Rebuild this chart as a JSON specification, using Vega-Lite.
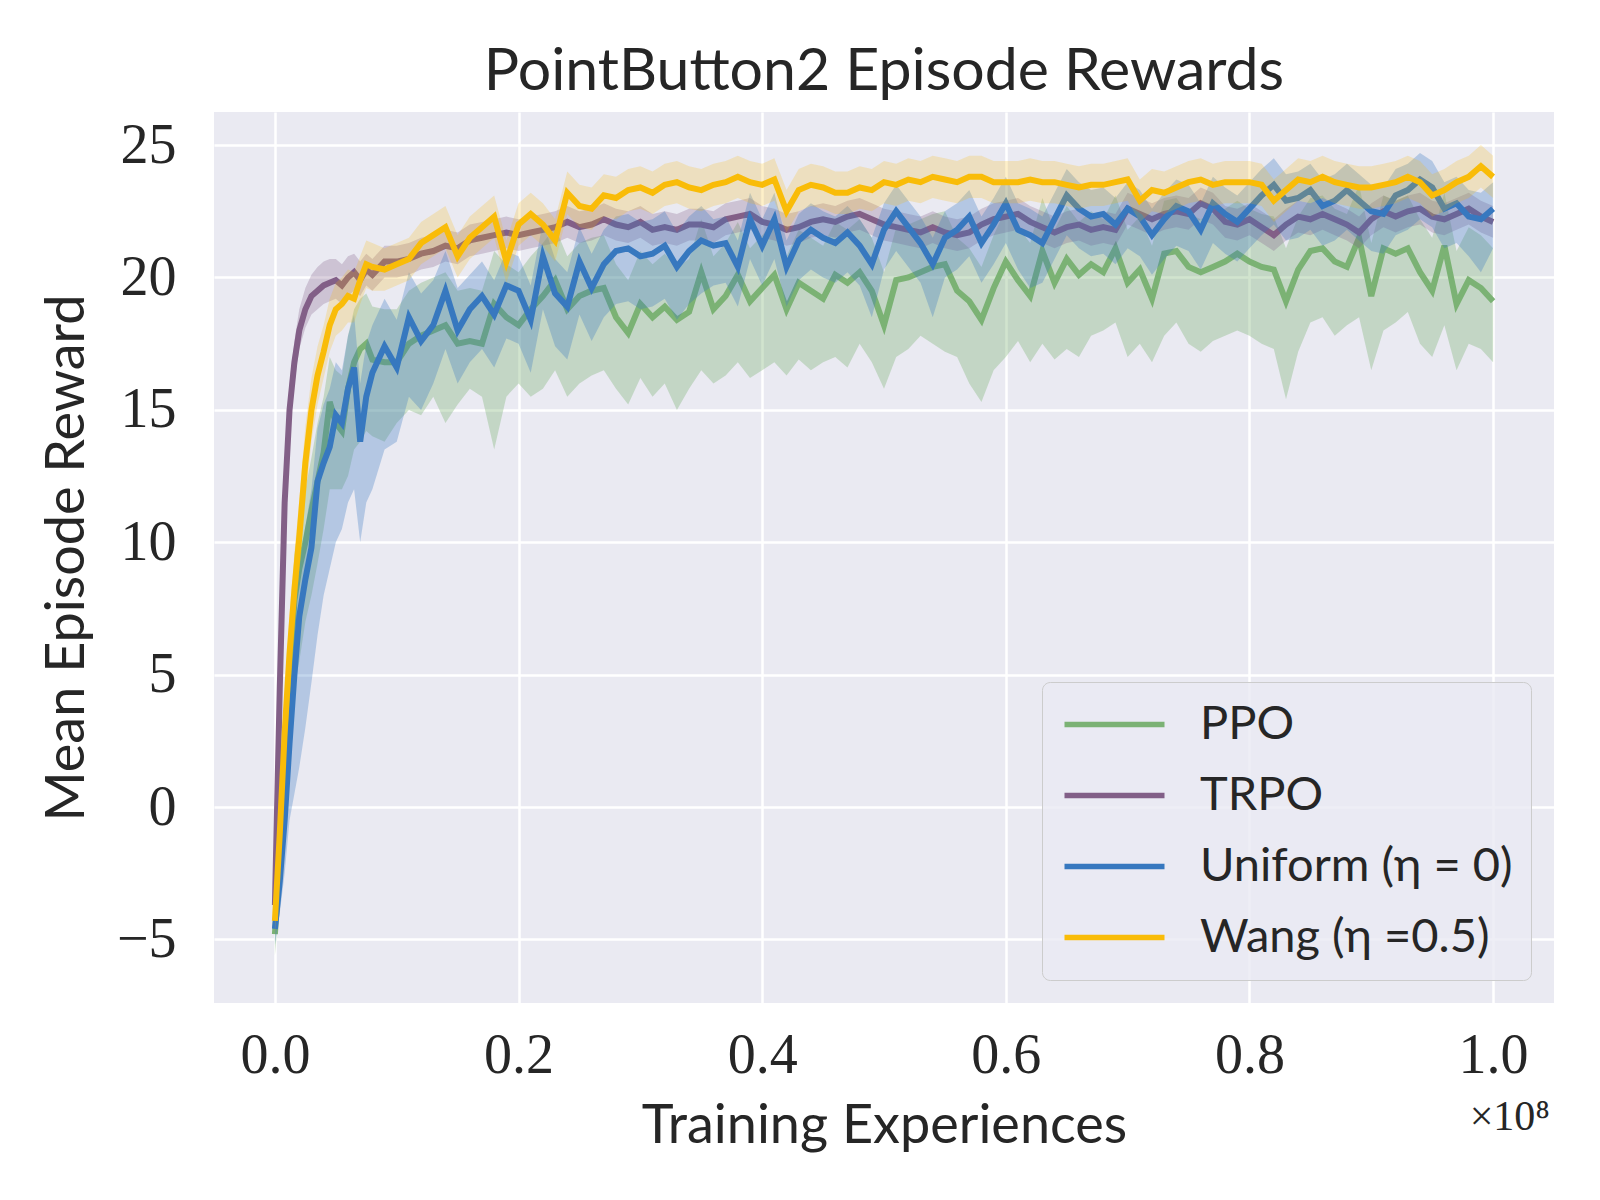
{
  "$schema": "https://vega.github.io/schema/vega-lite/v6.json",
  "width": 1340,
  "height": 891,
  "padding": {"left": 40, "top": 43, "right": 30, "bottom": 20},
  "background": "white",
  "title": {
    "text": "PointButton2 Episode Rewards",
    "font": "Lato",
    "fontSize": 59,
    "fontWeight": "normal",
    "color": "#262626",
    "offset": 10
  },
  "data": {
    "values": [
      {"x":0,"a":-4.8,"a0":-5.6,"a1":-4.0,"b":-3.7,"b0":-4.2,"b1":-3.2,"c":-4.6,"c0":-5.2,"c1":-4.0,"d":-4.3,"d0":-4.9,"d1":-3.7},
      {"x":0.004,"a":-2.0,"a0":-3.5,"a1":-0.8,"b":4.5,"b0":3.0,"b1":6.0,"c":-2.8,"c0":-4.0,"c1":-1.5,"d":-1.0,"d0":-2.2,"d1":0.2},
      {"x":0.008,"a":1.5,"a0":-0.5,"a1":3.0,"b":11.5,"b0":10.0,"b1":13.0,"c":-0.5,"c0":-2.5,"c1":1.0,"d":2.8,"d0":1.5,"d1":4.2},
      {"x":0.012,"a":4.8,"a0":2.5,"a1":6.5,"b":15.0,"b0":14.0,"b1":16.0,"c":2.4,"c0":-0.5,"c1":4.2,"d":5.8,"d0":4.3,"d1":7.3},
      {"x":0.016,"a":7.8,"a0":4.5,"a1":9.5,"b":16.8,"b0":16.0,"b1":17.6,"c":5.0,"c0":0.5,"c1":7.0,"d":8.2,"d0":6.8,"d1":9.6},
      {"x":0.02,"a":9.0,"a0":5.5,"a1":11.0,"b":18.0,"b0":17.3,"b1":18.8,"c":7.2,"c0":1.5,"c1":9.0,"d":10.2,"d0":8.8,"d1":11.6},
      {"x":0.025,"a":10.0,"a0":7.0,"a1":12.0,"b":18.8,"b0":18.1,"b1":19.6,"c":8.6,"c0":3.0,"c1":10.6,"d":13.0,"d0":11.6,"d1":14.4},
      {"x":0.03,"a":11.2,"a0":8.0,"a1":13.2,"b":19.3,"b0":18.6,"b1":20.1,"c":9.8,"c0":4.7,"c1":12.0,"d":15.0,"d0":13.8,"d1":16.2},
      {"x":0.035,"a":12.3,"a0":9.2,"a1":14.5,"b":19.5,"b0":18.8,"b1":20.4,"c":12.3,"c0":6.5,"c1":14.3,"d":16.3,"d0":15.2,"d1":17.4},
      {"x":0.04,"a":13.4,"a0":10.5,"a1":15.5,"b":19.7,"b0":19.0,"b1":20.6,"c":13.0,"c0":8.0,"c1":15.2,"d":17.2,"d0":16.2,"d1":18.2},
      {"x":0.045,"a":15.3,"a0":12.0,"a1":17.0,"b":19.8,"b0":19.1,"b1":20.7,"c":13.6,"c0":9.0,"c1":15.8,"d":18.2,"d0":17.2,"d1":19.2},
      {"x":0.05,"a":14.5,"a0":12.0,"a1":16.5,"b":19.9,"b0":19.2,"b1":20.7,"c":14.8,"c0":10.0,"c1":16.8,"d":18.8,"d0":17.8,"d1":19.8},
      {"x":0.055,"a":14.2,"a0":12.0,"a1":16.3,"b":19.7,"b0":19.0,"b1":20.5,"c":14.5,"c0":10.5,"c1":16.5,"d":19.0,"d0":18.0,"d1":20.0},
      {"x":0.06,"a":15.8,"a0":12.5,"a1":17.8,"b":20.0,"b0":19.3,"b1":20.8,"c":15.8,"c0":11.5,"c1":17.8,"d":19.3,"d0":18.3,"d1":20.3},
      {"x":0.065,"a":16.8,"a0":13.5,"a1":18.8,"b":20.2,"b0":19.5,"b1":20.9,"c":16.6,"c0":12.0,"c1":18.6,"d":19.2,"d0":18.3,"d1":20.2},
      {"x":0.07,"a":17.3,"a0":13.8,"a1":19.2,"b":19.9,"b0":19.3,"b1":20.6,"c":13.8,"c0":10.0,"c1":16.0,"d":19.9,"d0":19.0,"d1":20.8},
      {"x":0.075,"a":17.5,"a0":14.2,"a1":19.4,"b":20.3,"b0":19.7,"b1":20.9,"c":15.5,"c0":11.5,"c1":17.5,"d":20.5,"d0":19.6,"d1":21.4},
      {"x":0.08,"a":16.9,"a0":14.0,"a1":18.9,"b":20.1,"b0":19.5,"b1":20.7,"c":16.4,"c0":12.0,"c1":18.2,"d":20.4,"d0":19.5,"d1":21.3},
      {"x":0.09,"a":16.8,"a0":13.8,"a1":18.8,"b":20.6,"b0":20.0,"b1":21.2,"c":17.4,"c0":13.5,"c1":19.2,"d":20.3,"d0":19.5,"d1":21.1},
      {"x":0.10,"a":16.8,"a0":14.5,"a1":18.8,"b":20.6,"b0":20.0,"b1":21.2,"c":16.6,"c0":13.8,"c1":18.4,"d":20.5,"d0":19.7,"d1":21.3},
      {"x":0.11,"a":17.5,"a0":15.0,"a1":19.5,"b":20.7,"b0":20.1,"b1":21.3,"c":18.5,"c0":15.5,"c1":20.2,"d":20.7,"d0":19.9,"d1":21.5},
      {"x":0.12,"a":17.8,"a0":14.8,"a1":19.8,"b":20.9,"b0":20.3,"b1":21.5,"c":17.6,"c0":15.0,"c1":19.4,"d":21.3,"d0":20.5,"d1":22.1},
      {"x":0.13,"a":18.0,"a0":15.5,"a1":20.0,"b":21.0,"b0":20.4,"b1":21.6,"c":18.2,"c0":16.0,"c1":19.9,"d":21.6,"d0":20.8,"d1":22.4},
      {"x":0.14,"a":18.2,"a0":14.5,"a1":20.2,"b":21.2,"b0":20.6,"b1":21.8,"c":19.5,"c0":17.3,"c1":21.0,"d":21.9,"d0":21.1,"d1":22.7},
      {"x":0.15,"a":17.5,"a0":15.2,"a1":19.5,"b":21.1,"b0":20.5,"b1":21.7,"c":18.0,"c0":16.0,"c1":19.6,"d":20.8,"d0":20.0,"d1":21.6},
      {"x":0.16,"a":17.6,"a0":15.8,"a1":19.6,"b":21.4,"b0":20.8,"b1":22.0,"c":18.8,"c0":16.8,"c1":20.1,"d":21.5,"d0":20.7,"d1":22.3},
      {"x":0.17,"a":17.5,"a0":15.5,"a1":19.5,"b":21.5,"b0":20.9,"b1":22.1,"c":19.3,"c0":17.3,"c1":20.6,"d":21.9,"d0":21.1,"d1":22.7},
      {"x":0.18,"a":19.0,"a0":13.5,"a1":21.0,"b":21.6,"b0":21.0,"b1":22.2,"c":18.6,"c0":16.6,"c1":19.9,"d":22.3,"d0":21.5,"d1":23.1},
      {"x":0.19,"a":18.5,"a0":15.5,"a1":20.5,"b":21.7,"b0":21.1,"b1":22.3,"c":19.7,"c0":17.7,"c1":21.0,"d":20.6,"d0":19.8,"d1":21.4},
      {"x":0.20,"a":18.2,"a0":16.0,"a1":20.2,"b":21.6,"b0":21.0,"b1":22.2,"c":19.5,"c0":17.5,"c1":20.8,"d":22.0,"d0":21.2,"d1":22.8},
      {"x":0.21,"a":18.8,"a0":15.5,"a1":20.8,"b":21.7,"b0":21.1,"b1":22.3,"c":18.4,"c0":16.4,"c1":19.7,"d":22.4,"d0":21.6,"d1":23.2},
      {"x":0.22,"a":19.3,"a0":15.8,"a1":21.3,"b":21.8,"b0":21.2,"b1":22.4,"c":20.8,"c0":18.8,"c1":22.1,"d":22.0,"d0":21.2,"d1":22.8},
      {"x":0.23,"a":19.9,"a0":16.5,"a1":21.9,"b":21.9,"b0":21.3,"b1":22.5,"c":19.4,"c0":17.4,"c1":20.7,"d":21.4,"d0":20.6,"d1":22.2},
      {"x":0.24,"a":18.8,"a0":15.5,"a1":20.8,"b":22.1,"b0":21.5,"b1":22.7,"c":18.9,"c0":16.9,"c1":20.2,"d":23.2,"d0":22.4,"d1":24.0},
      {"x":0.25,"a":19.3,"a0":16.0,"a1":21.3,"b":21.9,"b0":21.3,"b1":22.5,"c":20.6,"c0":18.6,"c1":21.9,"d":22.7,"d0":21.9,"d1":23.5},
      {"x":0.26,"a":19.5,"a0":16.3,"a1":21.5,"b":22.0,"b0":21.4,"b1":22.6,"c":19.6,"c0":17.6,"c1":20.9,"d":22.6,"d0":21.8,"d1":23.4},
      {"x":0.27,"a":19.6,"a0":16.5,"a1":21.6,"b":22.2,"b0":21.6,"b1":22.8,"c":20.5,"c0":18.5,"c1":21.8,"d":23.1,"d0":22.3,"d1":23.9},
      {"x":0.28,"a":18.5,"a0":15.8,"a1":20.5,"b":22.0,"b0":21.4,"b1":22.6,"c":21.0,"c0":19.0,"c1":22.3,"d":23.0,"d0":22.2,"d1":23.8},
      {"x":0.29,"a":17.9,"a0":15.2,"a1":19.9,"b":21.9,"b0":21.3,"b1":22.5,"c":21.1,"c0":19.1,"c1":22.4,"d":23.3,"d0":22.5,"d1":24.1},
      {"x":0.30,"a":19.0,"a0":16.2,"a1":21.0,"b":22.1,"b0":21.5,"b1":22.7,"c":20.8,"c0":18.8,"c1":22.1,"d":23.4,"d0":22.6,"d1":24.2},
      {"x":0.31,"a":18.5,"a0":15.5,"a1":20.5,"b":21.8,"b0":21.2,"b1":22.4,"c":20.9,"c0":18.9,"c1":22.2,"d":23.2,"d0":22.4,"d1":24.0},
      {"x":0.32,"a":18.9,"a0":16.0,"a1":20.9,"b":21.9,"b0":21.3,"b1":22.5,"c":21.2,"c0":19.2,"c1":22.5,"d":23.5,"d0":22.7,"d1":24.3},
      {"x":0.33,"a":18.4,"a0":15.0,"a1":20.4,"b":21.8,"b0":21.2,"b1":22.4,"c":20.4,"c0":18.4,"c1":21.7,"d":23.6,"d0":22.8,"d1":24.4},
      {"x":0.34,"a":18.7,"a0":15.8,"a1":20.7,"b":22.0,"b0":21.4,"b1":22.6,"c":21.0,"c0":19.0,"c1":22.3,"d":23.4,"d0":22.6,"d1":24.2},
      {"x":0.35,"a":20.2,"a0":16.5,"a1":22.2,"b":22.0,"b0":21.4,"b1":22.6,"c":21.4,"c0":19.4,"c1":22.7,"d":23.3,"d0":22.5,"d1":24.1},
      {"x":0.36,"a":18.8,"a0":16.0,"a1":20.8,"b":21.9,"b0":21.3,"b1":22.5,"c":21.2,"c0":19.7,"c1":22.2,"d":23.5,"d0":22.7,"d1":24.3},
      {"x":0.37,"a":19.3,"a0":16.3,"a1":21.3,"b":22.2,"b0":21.6,"b1":22.8,"c":21.3,"c0":19.8,"c1":22.3,"d":23.6,"d0":22.8,"d1":24.4},
      {"x":0.38,"a":20.1,"a0":16.8,"a1":22.1,"b":22.3,"b0":21.7,"b1":22.9,"c":20.4,"c0":18.9,"c1":21.4,"d":23.8,"d0":23.0,"d1":24.6},
      {"x":0.39,"a":19.1,"a0":16.2,"a1":21.1,"b":22.4,"b0":21.8,"b1":23.0,"c":22.2,"c0":20.7,"c1":23.2,"d":23.6,"d0":22.8,"d1":24.4},
      {"x":0.40,"a":19.6,"a0":16.5,"a1":21.6,"b":22.1,"b0":21.5,"b1":22.7,"c":21.2,"c0":19.7,"c1":22.2,"d":23.5,"d0":22.7,"d1":24.3},
      {"x":0.41,"a":20.1,"a0":16.8,"a1":22.1,"b":22.0,"b0":21.4,"b1":22.6,"c":22.2,"c0":20.7,"c1":23.2,"d":23.7,"d0":22.9,"d1":24.5},
      {"x":0.42,"a":18.8,"a0":16.3,"a1":20.8,"b":21.8,"b0":21.2,"b1":22.4,"c":20.4,"c0":18.9,"c1":21.4,"d":22.5,"d0":21.7,"d1":23.3},
      {"x":0.43,"a":19.8,"a0":16.9,"a1":21.8,"b":21.9,"b0":21.3,"b1":22.5,"c":21.4,"c0":19.9,"c1":22.4,"d":23.3,"d0":22.5,"d1":24.1},
      {"x":0.44,"a":19.5,"a0":16.5,"a1":21.5,"b":22.1,"b0":21.5,"b1":22.7,"c":21.8,"c0":20.3,"c1":22.8,"d":23.5,"d0":22.7,"d1":24.3},
      {"x":0.45,"a":19.2,"a0":16.8,"a1":21.2,"b":22.2,"b0":21.6,"b1":22.8,"c":21.5,"c0":20.0,"c1":22.5,"d":23.4,"d0":22.6,"d1":24.2},
      {"x":0.46,"a":20.1,"a0":17.0,"a1":22.1,"b":22.1,"b0":21.5,"b1":22.7,"c":21.3,"c0":19.8,"c1":22.3,"d":23.2,"d0":22.4,"d1":24.0},
      {"x":0.47,"a":19.8,"a0":16.6,"a1":21.8,"b":22.3,"b0":21.7,"b1":22.9,"c":21.7,"c0":20.2,"c1":22.7,"d":23.2,"d0":22.4,"d1":24.0},
      {"x":0.48,"a":20.2,"a0":17.5,"a1":22.2,"b":22.4,"b0":21.8,"b1":23.0,"c":21.2,"c0":19.7,"c1":22.2,"d":23.4,"d0":22.6,"d1":24.2},
      {"x":0.49,"a":19.5,"a0":16.8,"a1":21.5,"b":22.2,"b0":21.6,"b1":22.8,"c":20.5,"c0":18.5,"c1":21.5,"d":23.3,"d0":22.5,"d1":24.1},
      {"x":0.50,"a":18.2,"a0":15.8,"a1":20.2,"b":22.0,"b0":21.4,"b1":22.6,"c":21.8,"c0":20.3,"c1":22.8,"d":23.6,"d0":22.8,"d1":24.4},
      {"x":0.51,"a":19.9,"a0":17.0,"a1":21.9,"b":21.9,"b0":21.3,"b1":22.5,"c":22.5,"c0":21.0,"c1":23.5,"d":23.5,"d0":22.7,"d1":24.3},
      {"x":0.52,"a":20.0,"a0":17.3,"a1":22.0,"b":21.8,"b0":21.2,"b1":22.4,"c":21.9,"c0":20.4,"c1":22.9,"d":23.7,"d0":22.9,"d1":24.5},
      {"x":0.53,"a":20.2,"a0":17.8,"a1":22.2,"b":21.7,"b0":21.1,"b1":22.3,"c":21.3,"c0":19.8,"c1":22.3,"d":23.6,"d0":22.8,"d1":24.4},
      {"x":0.54,"a":20.4,"a0":17.5,"a1":22.4,"b":21.9,"b0":21.3,"b1":22.5,"c":20.5,"c0":18.5,"c1":21.5,"d":23.8,"d0":23.0,"d1":24.6},
      {"x":0.55,"a":20.5,"a0":17.2,"a1":22.5,"b":21.7,"b0":21.1,"b1":22.3,"c":21.5,"c0":20.0,"c1":22.5,"d":23.7,"d0":22.9,"d1":24.5},
      {"x":0.56,"a":19.5,"a0":17.0,"a1":21.5,"b":21.6,"b0":21.0,"b1":22.2,"c":21.8,"c0":20.3,"c1":22.8,"d":23.6,"d0":22.8,"d1":24.4},
      {"x":0.57,"a":19.1,"a0":16.0,"a1":21.1,"b":21.7,"b0":21.1,"b1":22.3,"c":22.3,"c0":20.8,"c1":23.3,"d":23.8,"d0":23.0,"d1":24.6},
      {"x":0.58,"a":18.4,"a0":15.3,"a1":20.4,"b":22.0,"b0":21.4,"b1":22.6,"c":21.3,"c0":19.8,"c1":22.3,"d":23.8,"d0":23.0,"d1":24.6},
      {"x":0.59,"a":19.6,"a0":16.5,"a1":21.6,"b":22.2,"b0":21.6,"b1":22.8,"c":22.0,"c0":20.5,"c1":23.0,"d":23.6,"d0":22.8,"d1":24.4},
      {"x":0.60,"a":20.6,"a0":17.0,"a1":22.6,"b":22.3,"b0":21.7,"b1":22.9,"c":22.8,"c0":21.3,"c1":23.8,"d":23.6,"d0":22.8,"d1":24.4},
      {"x":0.61,"a":19.9,"a0":17.6,"a1":21.9,"b":22.4,"b0":21.8,"b1":23.0,"c":21.8,"c0":20.3,"c1":22.8,"d":23.6,"d0":22.8,"d1":24.4},
      {"x":0.62,"a":19.3,"a0":16.8,"a1":21.3,"b":22.1,"b0":21.5,"b1":22.7,"c":21.6,"c0":19.6,"c1":22.6,"d":23.7,"d0":22.9,"d1":24.5},
      {"x":0.63,"a":21.0,"a0":17.5,"a1":23.0,"b":21.9,"b0":21.3,"b1":22.5,"c":21.3,"c0":19.8,"c1":22.3,"d":23.6,"d0":22.8,"d1":24.4},
      {"x":0.64,"a":19.8,"a0":16.9,"a1":21.8,"b":21.7,"b0":21.1,"b1":22.3,"c":22.2,"c0":20.7,"c1":23.2,"d":23.6,"d0":22.8,"d1":24.4},
      {"x":0.65,"a":20.7,"a0":17.3,"a1":22.7,"b":21.9,"b0":21.3,"b1":22.5,"c":23.1,"c0":21.6,"c1":24.1,"d":23.5,"d0":22.7,"d1":24.3},
      {"x":0.66,"a":20.1,"a0":17.0,"a1":22.1,"b":22.0,"b0":21.4,"b1":22.6,"c":22.6,"c0":21.1,"c1":23.6,"d":23.4,"d0":22.6,"d1":24.2},
      {"x":0.67,"a":20.5,"a0":17.8,"a1":22.5,"b":21.8,"b0":21.2,"b1":22.4,"c":22.3,"c0":20.8,"c1":23.3,"d":23.5,"d0":22.7,"d1":24.3},
      {"x":0.68,"a":20.2,"a0":18.0,"a1":22.2,"b":21.9,"b0":21.3,"b1":22.5,"c":22.4,"c0":20.9,"c1":23.4,"d":23.5,"d0":22.7,"d1":24.3},
      {"x":0.69,"a":21.1,"a0":18.3,"a1":23.1,"b":21.8,"b0":21.2,"b1":22.4,"c":22.0,"c0":20.5,"c1":23.0,"d":23.6,"d0":22.8,"d1":24.4},
      {"x":0.70,"a":19.8,"a0":17.0,"a1":21.8,"b":22.6,"b0":22.0,"b1":23.2,"c":22.6,"c0":21.1,"c1":23.6,"d":23.7,"d0":22.9,"d1":24.5},
      {"x":0.71,"a":20.3,"a0":17.5,"a1":22.3,"b":22.4,"b0":21.8,"b1":23.0,"c":22.3,"c0":20.8,"c1":23.3,"d":22.9,"d0":22.1,"d1":23.7},
      {"x":0.72,"a":19.2,"a0":16.8,"a1":21.2,"b":22.2,"b0":21.6,"b1":22.8,"c":21.6,"c0":20.1,"c1":22.6,"d":23.3,"d0":22.5,"d1":24.1},
      {"x":0.73,"a":20.9,"a0":17.8,"a1":22.9,"b":22.4,"b0":21.8,"b1":23.0,"c":22.2,"c0":20.7,"c1":23.2,"d":23.2,"d0":22.4,"d1":24.0},
      {"x":0.74,"a":21.0,"a0":18.3,"a1":23.0,"b":22.5,"b0":21.9,"b1":23.1,"c":22.7,"c0":21.2,"c1":23.7,"d":23.4,"d0":22.6,"d1":24.2},
      {"x":0.75,"a":20.4,"a0":17.5,"a1":22.4,"b":22.4,"b0":21.8,"b1":23.0,"c":22.5,"c0":21.0,"c1":23.5,"d":23.6,"d0":22.8,"d1":24.4},
      {"x":0.76,"a":20.2,"a0":17.2,"a1":22.2,"b":22.8,"b0":22.2,"b1":23.4,"c":21.8,"c0":20.3,"c1":22.8,"d":23.7,"d0":22.9,"d1":24.5},
      {"x":0.77,"a":20.4,"a0":17.6,"a1":22.4,"b":22.6,"b0":22.0,"b1":23.2,"c":22.8,"c0":21.3,"c1":23.8,"d":23.5,"d0":22.7,"d1":24.3},
      {"x":0.78,"a":20.6,"a0":17.8,"a1":22.6,"b":22.1,"b0":21.5,"b1":22.7,"c":22.4,"c0":20.9,"c1":23.4,"d":23.6,"d0":22.8,"d1":24.4},
      {"x":0.79,"a":20.9,"a0":18.0,"a1":22.9,"b":22.0,"b0":21.4,"b1":22.6,"c":22.1,"c0":20.6,"c1":23.1,"d":23.6,"d0":22.8,"d1":24.4},
      {"x":0.80,"a":20.6,"a0":17.8,"a1":22.6,"b":22.2,"b0":21.6,"b1":22.8,"c":22.6,"c0":21.1,"c1":23.6,"d":23.6,"d0":22.8,"d1":24.4},
      {"x":0.81,"a":20.4,"a0":17.5,"a1":22.4,"b":21.9,"b0":21.3,"b1":22.5,"c":23.1,"c0":21.6,"c1":24.1,"d":23.5,"d0":22.7,"d1":24.3},
      {"x":0.82,"a":20.3,"a0":17.3,"a1":22.3,"b":21.6,"b0":21.0,"b1":22.2,"c":23.5,"c0":22.0,"c1":24.5,"d":22.9,"d0":22.1,"d1":23.7},
      {"x":0.83,"a":19.1,"a0":15.4,"a1":21.1,"b":22.0,"b0":21.4,"b1":22.6,"c":22.9,"c0":21.4,"c1":23.9,"d":23.3,"d0":22.5,"d1":24.1},
      {"x":0.84,"a":20.3,"a0":17.2,"a1":22.3,"b":22.3,"b0":21.7,"b1":22.9,"c":23.0,"c0":21.5,"c1":24.0,"d":23.7,"d0":22.9,"d1":24.5},
      {"x":0.85,"a":21.0,"a0":18.3,"a1":23.0,"b":22.2,"b0":21.6,"b1":22.8,"c":23.3,"c0":21.8,"c1":24.3,"d":23.6,"d0":22.8,"d1":24.4},
      {"x":0.86,"a":21.1,"a0":18.5,"a1":23.1,"b":22.4,"b0":21.8,"b1":23.0,"c":22.7,"c0":21.2,"c1":23.7,"d":23.8,"d0":23.0,"d1":24.6},
      {"x":0.87,"a":20.6,"a0":17.8,"a1":22.6,"b":22.2,"b0":21.6,"b1":22.8,"c":22.9,"c0":21.4,"c1":23.9,"d":23.6,"d0":22.8,"d1":24.4},
      {"x":0.88,"a":20.4,"a0":18.2,"a1":22.4,"b":22.0,"b0":21.4,"b1":22.6,"c":23.3,"c0":21.8,"c1":24.3,"d":23.5,"d0":22.7,"d1":24.3},
      {"x":0.89,"a":21.5,"a0":18.5,"a1":23.5,"b":21.7,"b0":21.1,"b1":22.3,"c":22.9,"c0":21.4,"c1":23.9,"d":23.4,"d0":22.6,"d1":24.2},
      {"x":0.90,"a":19.3,"a0":16.5,"a1":21.3,"b":22.2,"b0":21.6,"b1":22.8,"c":22.5,"c0":21.0,"c1":23.5,"d":23.4,"d0":22.6,"d1":24.2},
      {"x":0.91,"a":21.1,"a0":18.0,"a1":23.1,"b":22.5,"b0":21.9,"b1":23.1,"c":22.4,"c0":20.9,"c1":23.4,"d":23.5,"d0":22.7,"d1":24.3},
      {"x":0.92,"a":20.9,"a0":18.3,"a1":22.9,"b":22.3,"b0":21.7,"b1":22.9,"c":23.1,"c0":21.6,"c1":24.1,"d":23.6,"d0":22.8,"d1":24.4},
      {"x":0.93,"a":21.1,"a0":18.7,"a1":23.1,"b":22.5,"b0":21.9,"b1":23.1,"c":23.3,"c0":21.8,"c1":24.3,"d":23.8,"d0":23.0,"d1":24.6},
      {"x":0.94,"a":20.2,"a0":17.5,"a1":22.2,"b":22.6,"b0":22.0,"b1":23.2,"c":23.7,"c0":22.2,"c1":24.7,"d":23.6,"d0":22.8,"d1":24.4},
      {"x":0.95,"a":19.5,"a0":17.0,"a1":21.5,"b":22.3,"b0":21.7,"b1":22.9,"c":23.4,"c0":21.9,"c1":24.4,"d":23.1,"d0":22.3,"d1":23.9},
      {"x":0.96,"a":21.2,"a0":18.2,"a1":23.2,"b":22.2,"b0":21.6,"b1":22.8,"c":22.6,"c0":21.1,"c1":23.6,"d":23.3,"d0":22.5,"d1":24.1},
      {"x":0.97,"a":19.0,"a0":16.5,"a1":21.0,"b":22.4,"b0":21.8,"b1":23.0,"c":22.8,"c0":21.3,"c1":23.8,"d":23.6,"d0":22.8,"d1":24.4},
      {"x":0.98,"a":19.9,"a0":17.5,"a1":21.9,"b":22.6,"b0":22.0,"b1":23.2,"c":22.3,"c0":20.8,"c1":23.3,"d":23.8,"d0":23.0,"d1":24.6},
      {"x":0.99,"a":19.6,"a0":17.3,"a1":21.6,"b":22.3,"b0":21.7,"b1":22.9,"c":22.2,"c0":20.2,"c1":23.2,"d":24.2,"d0":23.4,"d1":25.0},
      {"x":1.00,"a":19.1,"a0":16.8,"a1":21.1,"b":22.1,"b0":21.5,"b1":22.7,"c":22.6,"c0":21.1,"c1":23.6,"d":23.8,"d0":23.0,"d1":24.6}
    ]
  },
  "layer": [
    {
      "mark": {"type": "area", "color": "#7bb274", "opacity": 0.35},
      "encoding": {
        "x": {
          "field": "x",
          "type": "quantitative",
          "scale": {"domain": [-0.05, 1.05], "nice": false, "zero": false},
          "axis": {"title": "Training Experiences", "values": [0, 0.2, 0.4, 0.6, 0.8, 1.0], "format": ".1f"}
        },
        "y": {"field": "a0", "type": "quantitative", "scale": {"domain": [-7.4, 26.25], "nice": false, "zero": false},
              "axis": {"title": "Mean Episode Reward", "values": [-5, 0, 5, 10, 15, 20, 25]}},
        "y2": {"field": "a1"}
      }
    },
    {
      "mark": {"type": "line", "strokeWidth": 6},
      "encoding": {
        "x": {"field": "x", "type": "quantitative"},
        "y": {"field": "a", "type": "quantitative"},
        "color": {"datum": "PPO"}
      }
    },
    {
      "mark": {"type": "area", "color": "#825f87", "opacity": 0.28},
      "encoding": {"x": {"field": "x", "type": "quantitative"}, "y": {"field": "b0", "type": "quantitative"}, "y2": {"field": "b1"}}
    },
    {
      "mark": {"type": "line", "strokeWidth": 6},
      "encoding": {
        "x": {"field": "x", "type": "quantitative"},
        "y": {"field": "b", "type": "quantitative"},
        "color": {"datum": "TRPO"}
      }
    },
    {
      "mark": {"type": "area", "color": "#3778bf", "opacity": 0.3},
      "encoding": {"x": {"field": "x", "type": "quantitative"}, "y": {"field": "c0", "type": "quantitative"}, "y2": {"field": "c1"}}
    },
    {
      "mark": {"type": "line", "strokeWidth": 6},
      "encoding": {
        "x": {"field": "x", "type": "quantitative"},
        "y": {"field": "c", "type": "quantitative"},
        "color": {"datum": "Uniform (η = 0)"}
      }
    },
    {
      "mark": {"type": "area", "color": "#f9bc08", "opacity": 0.22},
      "encoding": {"x": {"field": "x", "type": "quantitative"}, "y": {"field": "d0", "type": "quantitative"}, "y2": {"field": "d1"}}
    },
    {
      "mark": {"type": "line", "strokeWidth": 6},
      "encoding": {
        "x": {"field": "x", "type": "quantitative"},
        "y": {"field": "d", "type": "quantitative"},
        "color": {
          "datum": "Wang (η =0.5)",
          "scale": {
            "domain": ["PPO", "TRPO", "Uniform (η = 0)", "Wang (η =0.5)"],
            "range": ["#7bb274", "#825f87", "#3778bf", "#f9bc08"]
          },
          "legend": {
            "title": null,
            "orient": "bottom-right",
            "offset": 23,
            "symbolType": "M-2.5,0H2.5",
            "symbolSize": 1600,
            "symbolStrokeWidth": 5.5,
            "symbolOffset": 30,
            "labelOffset": 62,
            "labelFont": "Lato",
            "labelFontSize": 47,
            "labelColor": "#262626",
            "labelLimit": 600,
            "rowPadding": 23,
            "padding": 19,
            "fillColor": "rgba(234,234,242,0.8)",
            "strokeColor": "#cccccc",
            "cornerRadius": 8
          }
        }
      }
    },
    {
      "data": {"values": [{"t": "×10⁸"}]},
      "mark": {"type": "text", "align": "right", "baseline": "alphabetic", "font": "Liberation Serif", "fontSize": 42, "dx": -4, "color": "#262626"},
      "encoding": {
        "x": {"datum": 1.05, "type": "quantitative"},
        "y": {"datum": -12.2, "type": "quantitative"},
        "text": {"field": "t", "type": "nominal"}
      }
    }
  ],
  "config": {
    "view": {"fill": "#eaeaf2", "stroke": null},
    "axis": {
      "grid": true,
      "gridColor": "white",
      "gridWidth": 2.5,
      "domain": false,
      "ticks": false,
      "labelFont": "Liberation Serif",
      "labelFontSize": 56,
      "labelColor": "#262626",
      "titleFont": "Lato",
      "titleFontSize": 54,
      "titleFontWeight": "normal",
      "titleColor": "#262626"
    },
    "axisX": {"labelPadding": 25, "titlePadding": 16},
    "axisY": {"labelPadding": 38, "titlePadding": 22}
  }
}
